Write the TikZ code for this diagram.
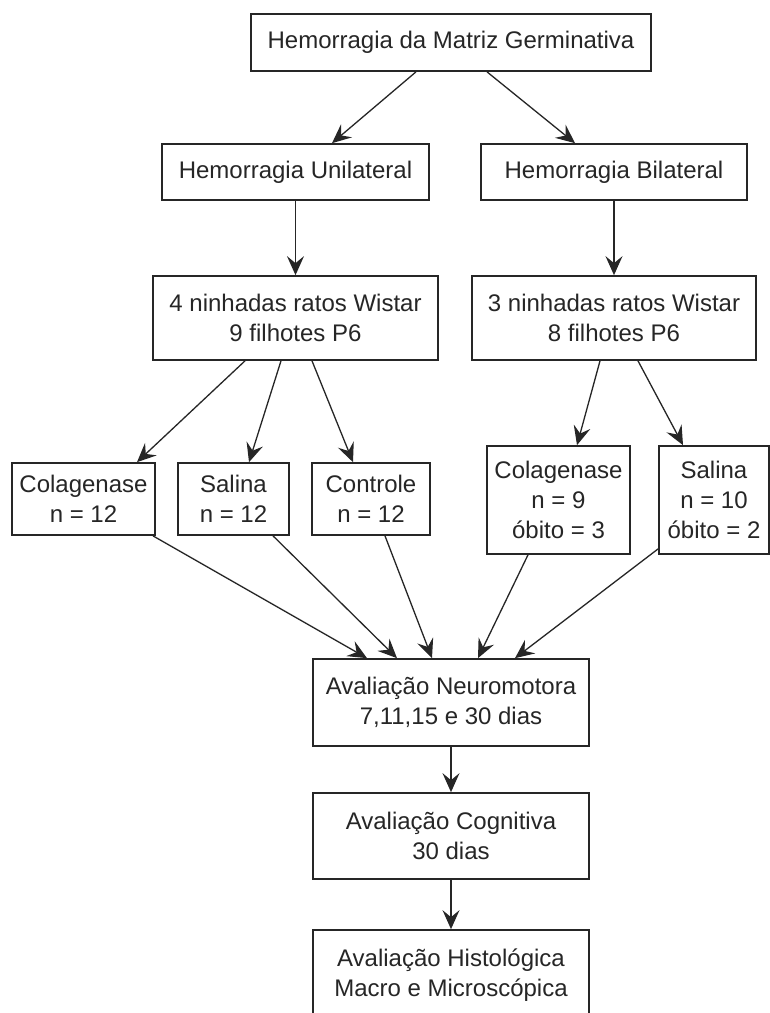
\documentclass[tikz,border=0pt]{standalone}
\usepackage{fontspec}
\setmainfont{Liberation Sans}
\usepackage{tikz}
\usetikzlibrary{arrows.meta,positioning,calc}

\begin{document}
\begin{tikzpicture}[
    x=1pt,y=-1pt,
    >={Stealth[length=19pt,width=17pt,inset=7pt]},
    flow/.style={->,line width=1.3pt,black!85},
    box/.style={draw=black!85,line width=1.7pt,align=center,inner sep=0pt,
      font=\fontsize{24}{30}\selectfont,text=black!85}]
\useasboundingbox[fill=white] (0,0) rectangle (770,1013);
% ===== origem =====
\node[box,minimum width=400pt,minimum height=57pt] (hmg) at (451,42.5)
  {Hemorragia da Matriz Germinativa};
% ===== tipo de hemorragia =====
\node[box,minimum width=267pt,minimum height=56pt] (unil) at (295.5,172)
  {Hemorragia Unilateral};
\node[box,minimum width=266pt,minimum height=56pt] (bil) at (614,172)
  {Hemorragia Bilateral};
% ===== ninhadas =====
\node[box,minimum width=285pt,minimum height=84pt] (nin4) at (295.5,318)
  {4 ninhadas ratos Wistar\\9 filhotes P6};
\node[box,minimum width=284pt,minimum height=84pt] (nin3) at (614,318)
  {3 ninhadas ratos Wistar\\8 filhotes P6};
% ===== grupos unilateral =====
\node[box,minimum width=143pt,minimum height=72pt] (colU) at (83.5,499)
  {Colagenase\\n = 12};
\node[box,minimum width=111pt,minimum height=72pt] (salU) at (233.5,499)
  {Salina\\n = 12};
\node[box,minimum width=118pt,minimum height=72pt] (ctrl) at (371,499)
  {Controle\\n = 12};
% ===== grupos bilateral =====
\node[box,minimum width=143pt,minimum height=108pt] (colB) at (558.5,500)
  {Colagenase\\n = 9\\óbito = 3};
\node[box,minimum width=110pt,minimum height=108pt] (salB) at (714,500)
  {Salina\\n = 10\\óbito = 2};
% ===== avaliacoes =====
\node[box,minimum width=276pt,minimum height=87pt] (neuro) at (451,702.5)
  {Avaliação Neuromotora\\7,11,15 e 30 dias};
\node[box,minimum width=276pt,minimum height=86pt] (cogn) at (451,836)
  {Avaliação Cognitiva\\30 dias};
\node[box,minimum width=276pt,minimum height=90pt] (hist) at (451,975)
  {Avaliação Histológica\\Macro e Microscópica};
% ===== setas =====
\draw[flow] ([xshift=-35pt]hmg.south) -- ([xshift=36.5pt]unil.north);
\draw[flow] ([xshift=36pt]hmg.south) -- ([xshift=-39pt]bil.north);
\draw[flow] (unil) -- (nin4);
\draw[flow] (bil) -- (nin3);
\draw[flow] ([xshift=-50.5pt]nin4.south) -- ([xshift=53.5pt]colU.north);
\draw[flow] ([xshift=-14.5pt]nin4.south) -- ([xshift=15.5pt]salU.north);
\draw[flow] ([xshift=16.5pt]nin4.south) -- ([xshift=-18pt]ctrl.north);
\draw[flow] ([xshift=-14pt]nin3.south) -- ([xshift=18.5pt]colB.north);
\draw[flow] ([xshift=24pt]nin3.south) -- ([xshift=-31pt]salB.north);
\draw[flow] ([xshift=69.5pt]colU.south) -- ([xshift=-84pt]neuro.north);
\draw[flow] ([xshift=39.5pt]salU.south) -- ([xshift=-54pt]neuro.north);
\draw[flow] ([xshift=14pt]ctrl.south) -- ([xshift=-19pt]neuro.north);
\draw[flow] ([xshift=-30.5pt]colB.south) -- ([xshift=27pt]neuro.north);
\draw[flow] ([yshift=6pt]salB.south west) -- ([xshift=64pt]neuro.north);
\draw[flow] (neuro) -- (cogn);
\draw[flow] (cogn) -- (hist);
\end{tikzpicture}
\end{document}
